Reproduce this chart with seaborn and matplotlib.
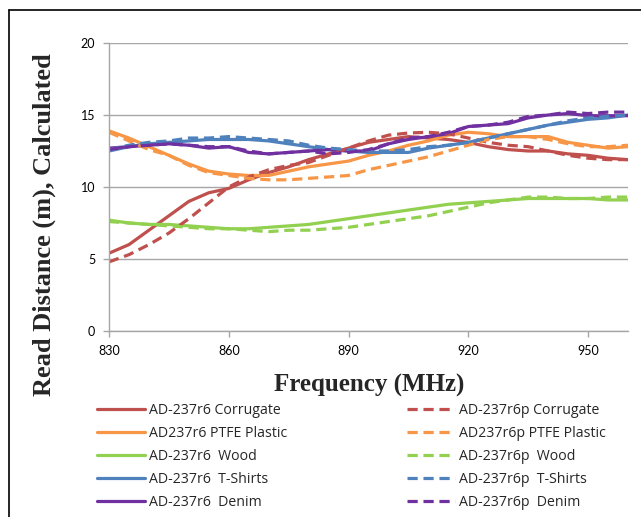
import numpy as np
import pandas as pd
import matplotlib
matplotlib.use("Agg")
import matplotlib.pyplot as plt
import seaborn as sns
from matplotlib.lines import Line2D

freq = list(range(830, 961, 5))

corrugate_r6 = [5.4, 6.0, 7.0, 8.0, 9.0, 9.6, 9.9, 10.5, 11.0, 11.4, 11.9, 12.3, 12.7, 13.1, 13.3, 13.5, 13.4, 13.3, 13.1, 12.8, 12.6, 12.5, 12.5, 12.3, 12.2, 12.0, 11.9]
corrugate_r6p = [4.8, 5.3, 6.0, 6.8, 7.8, 8.9, 10.0, 10.7, 11.2, 11.5, 11.7, 12.2, 12.7, 13.2, 13.6, 13.75, 13.8, 13.7, 13.4, 13.1, 12.9, 12.8, 12.5, 12.2, 12.0, 11.9, 11.9]
ptfe_r6 = [13.9, 13.4, 12.8, 12.2, 11.6, 11.1, 10.9, 10.8, 10.8, 11.1, 11.4, 11.6, 11.8, 12.2, 12.5, 12.9, 13.2, 13.6, 13.8, 13.7, 13.5, 13.5, 13.5, 13.1, 12.9, 12.7, 12.8]
ptfe_r6p = [13.8, 13.2, 12.6, 12.2, 11.5, 11.0, 10.8, 10.6, 10.5, 10.5, 10.6, 10.7, 10.8, 11.2, 11.5, 11.8, 12.1, 12.5, 12.9, 13.3, 13.5, 13.5, 13.3, 13.0, 12.8, 12.8, 12.9]
wood_r6 = [7.7, 7.5, 7.4, 7.4, 7.3, 7.2, 7.1, 7.1, 7.2, 7.3, 7.4, 7.6, 7.8, 8.0, 8.2, 8.4, 8.6, 8.8, 8.9, 9.0, 9.1, 9.2, 9.2, 9.2, 9.2, 9.1, 9.1]
wood_r6p = [7.6, 7.5, 7.4, 7.3, 7.2, 7.1, 7.1, 7.0, 6.9, 7.0, 7.0, 7.1, 7.2, 7.4, 7.6, 7.8, 8.0, 8.3, 8.6, 8.9, 9.1, 9.3, 9.3, 9.2, 9.2, 9.3, 9.3]
tshirt_r6 = [12.5, 12.8, 13.0, 13.1, 13.2, 13.3, 13.3, 13.3, 13.2, 13.0, 12.8, 12.6, 12.5, 12.4, 12.4, 12.4, 12.7, 12.9, 13.1, 13.4, 13.7, 14.0, 14.3, 14.5, 14.7, 14.8, 15.0]
tshirt_r6p = [12.6, 12.9, 13.1, 13.2, 13.4, 13.4, 13.5, 13.4, 13.3, 13.2, 12.9, 12.7, 12.6, 12.5, 12.5, 12.6, 12.8, 12.9, 13.1, 13.4, 13.7, 14.0, 14.3, 14.6, 14.8, 14.9, 15.0]
denim_r6 = [12.7, 12.8, 12.9, 13.0, 12.9, 12.7, 12.8, 12.4, 12.3, 12.4, 12.5, 12.6, 12.5, 12.5, 13.0, 13.3, 13.5, 13.7, 14.2, 14.3, 14.4, 14.8, 15.0, 15.1, 14.95, 14.95, 14.95]
denim_r6p = [12.6, 12.8, 12.9, 13.0, 12.9, 12.8, 12.8, 12.5, 12.3, 12.4, 12.5, 12.3, 12.4, 12.6, 13.0, 13.4, 13.5, 13.8, 14.2, 14.3, 14.5, 14.9, 15.0, 15.2, 15.1, 15.2, 15.2]

labels_r6 = ["AD-237r6 Corrugate", "AD237r6 PTFE Plastic", "AD-237r6  Wood", "AD-237r6  T-Shirts", "AD-237r6  Denim"]
labels_r6p = ["AD-237r6p Corrugate", "AD237r6p PTFE Plastic", "AD-237r6p  Wood", "AD-237r6p  T-Shirts", "AD-237r6p  Denim"]
series_r6 = [corrugate_r6, ptfe_r6, wood_r6, tshirt_r6, denim_r6]
series_r6p = [corrugate_r6p, ptfe_r6p, wood_r6p, tshirt_r6p, denim_r6p]
colors = ["#C0504D", "#F79646", "#92D050", "#4F81BD", "#7030A0"]

xticks = [830, 860, 890, 920, 950]
yticks = [0, 5, 10, 15, 20]

sns.set_theme(style="white")
plt.rcParams['font.family'] = ['Lato', 'DejaVu Sans']

fig = plt.figure(figsize=(6.41, 5.17), dpi=100)
W, H = 641, 517
ax = fig.add_axes([109 / W, 1 - 331 / H, (628 - 109) / W, (331 - 43) / H])

dash = (0, (3.2, 1.8))
h1, h2 = [], []
for lab, vals, c in zip(labels_r6, series_r6, colors):
    sns.lineplot(x=freq, y=vals, ax=ax, color=c, linewidth=2.3, label=None)
    h1.append(Line2D([], [], color=c, linewidth=2.3))
for lab, vals, c in zip(labels_r6p, series_r6p, colors):
    sns.lineplot(x=freq, y=vals, ax=ax, color=c, linewidth=2.3, linestyle=dash, label=None)
    h2.append(Line2D([], [], color=c, linewidth=2.3, linestyle=dash))

ax.set_xlim(830, 960)
ax.set_ylim(0, 20)
ax.set_xticks(xticks)
ax.set_yticks(yticks)
ax.yaxis.grid(True, color="#A6A6A6", linewidth=1.0)
ax.xaxis.grid(False)
for s in ["top", "right"]:
    ax.spines[s].set_visible(False)
for s in ["left", "bottom"]:
    ax.spines[s].set_color("#A6A6A6")
    ax.spines[s].set_linewidth(1.0)
ax.tick_params(axis="both", which="major", length=4, width=1.0, color="#A6A6A6",
               labelsize=9, labelcolor="#000000", direction="out")
ax.tick_params(axis="x", bottom=True, pad=6)
ax.tick_params(axis="y", left=True, pad=6)
ax.set_xlabel("")
ax.set_ylabel("")

fig.text(369 / W, 1 - 385 / H, "Frequency (MHz)", ha="center", va="center",
         fontsize=18, fontweight="bold", family=["Liberation Serif"])
fig.text(44 / W, 1 - 225 / H, "Read Distance (m), Calculated", ha="center", va="center",
         rotation=90, fontsize=19, fontweight="bold", family=["Liberation Serif"])

leg_kw = dict(frameon=False, handlelength=3.4, handletextpad=0.3,
              labelspacing=0.56, borderpad=0, borderaxespad=0, loc="upper left",
              prop={"family": ["Open Sans"], "size": 10.2})
fig.legend(h1, labels_r6, bbox_to_anchor=(97 / W, 1 - 403 / H), **leg_kw)
fig.legend(h2, labels_r6p, bbox_to_anchor=(407 / W, 1 - 403 / H), **leg_kw)

# outer frame
fig.add_artist(Line2D([9 / W, 9 / W], [0, 1 - 10 / H], color="black", linewidth=1.2, transform=fig.transFigure))
fig.add_artist(Line2D([9 / W, 1], [1 - 10 / H, 1 - 10 / H], color="black", linewidth=1.2, transform=fig.transFigure))

fig.savefig("out.png", dpi=100)
